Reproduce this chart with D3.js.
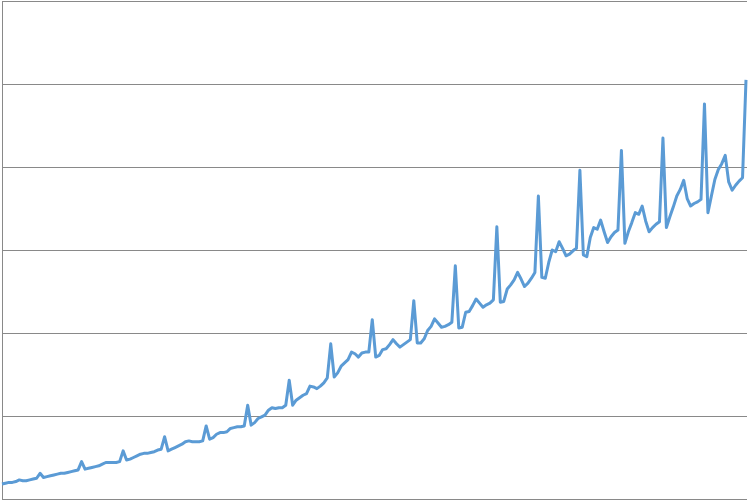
<!DOCTYPE html>
<html>
<head>
<meta charset="utf-8">
<script src="https://cdn.jsdelivr.net/npm/d3@7"></script>
<style>
  body { margin: 0; background: #fff; }
  .grid line, .grid path { stroke: #898989; stroke-width: 1; shape-rendering: crispEdges; }
</style>
</head>
<body>
<script>
// monthly values, one row per year (Jan..Dec)
var monthly = [
  [18, 19, 20, 20, 21, 23, 22, 22, 23, 24, 25, 31],
  [26, 27, 28, 29, 30, 31, 31, 32, 33, 34, 35, 45],
  [36, 37, 38, 39, 40, 42, 44, 44, 44, 44, 45, 58],
  [47, 48, 50, 52, 54, 55, 55, 56, 57, 59, 60, 75],
  [58, 60, 62, 64, 66, 69, 70, 69, 69, 69, 70, 88],
  [72, 74, 78, 80, 80, 81, 85, 86, 87, 87, 88, 113],
  [89, 92, 97, 99, 101, 107, 110, 109, 110, 110, 113, 143],
  [113, 119, 122, 125, 127, 136, 135, 133, 136, 140, 146, 187],
  [147, 152, 160, 164, 168, 177, 175, 171, 176, 177, 177, 216],
  [171, 173, 180, 181, 186, 192, 187, 183, 186, 189, 192, 239],
  [188, 188, 193, 203, 208, 217, 212, 207, 208, 210, 213, 281],
  [206, 207, 225, 226, 233, 241, 236, 231, 234, 236, 240, 328],
  [237, 238, 253, 258, 264, 273, 265, 256, 260, 266, 273, 365],
  [267, 266, 285, 300, 298, 310, 302, 293, 295, 299, 302, 396],
  [294, 292, 315, 327, 325, 336, 322, 309, 316, 321, 324, 420],
  [308, 322, 333, 345, 343, 353, 335, 322, 327, 331, 334, 435],
  [327, 340, 352, 365, 373, 384, 362, 353, 356, 358, 361, 476],
  [345, 365, 385, 397, 404, 414, 382, 372, 378, 383, 387, 505]
];
var yTicks = [0, 100, 200, 300, 400, 500, 600];

var margin = {top: 1, right: 2, bottom: 3, left: 2},
    width = 749 - margin.left - margin.right,
    height = 502 - margin.top - margin.bottom;

var data = [];
monthly.forEach(function(row) {
  row.forEach(function(v) { data.push(v); });
});

var x = d3.scaleLinear()
    .domain([0, data.length - 1])
    .range([0, width - 1]);
var y = d3.scaleLinear()
    .domain([0, 600])
    .range([height, 0]);

var svg = d3.select("body").append("svg")
    .attr("width", 749)
    .attr("height", 502)
  .append("g")
    .attr("transform", "translate(" + margin.left + "," + margin.top + ")");

// horizontal gridlines + left axis line
svg.append("g")
    .attr("class", "grid")
    .call(d3.axisLeft(y)
      .tickValues(yTicks)
      .tickSizeInner(-width)
      .tickSizeOuter(0)
      .tickFormat(""));

var line = d3.line()
    .x(function(d, i) { return x(i); })
    .y(function(d) { return y(d); });

svg.append("path")
    .datum(data)
    .attr("fill", "none")
    .attr("stroke", "#5b9bd5")
    .attr("stroke-width", 3)
    .attr("stroke-linejoin", "round")
    .attr("d", line);
</script>
</body>
</html>
